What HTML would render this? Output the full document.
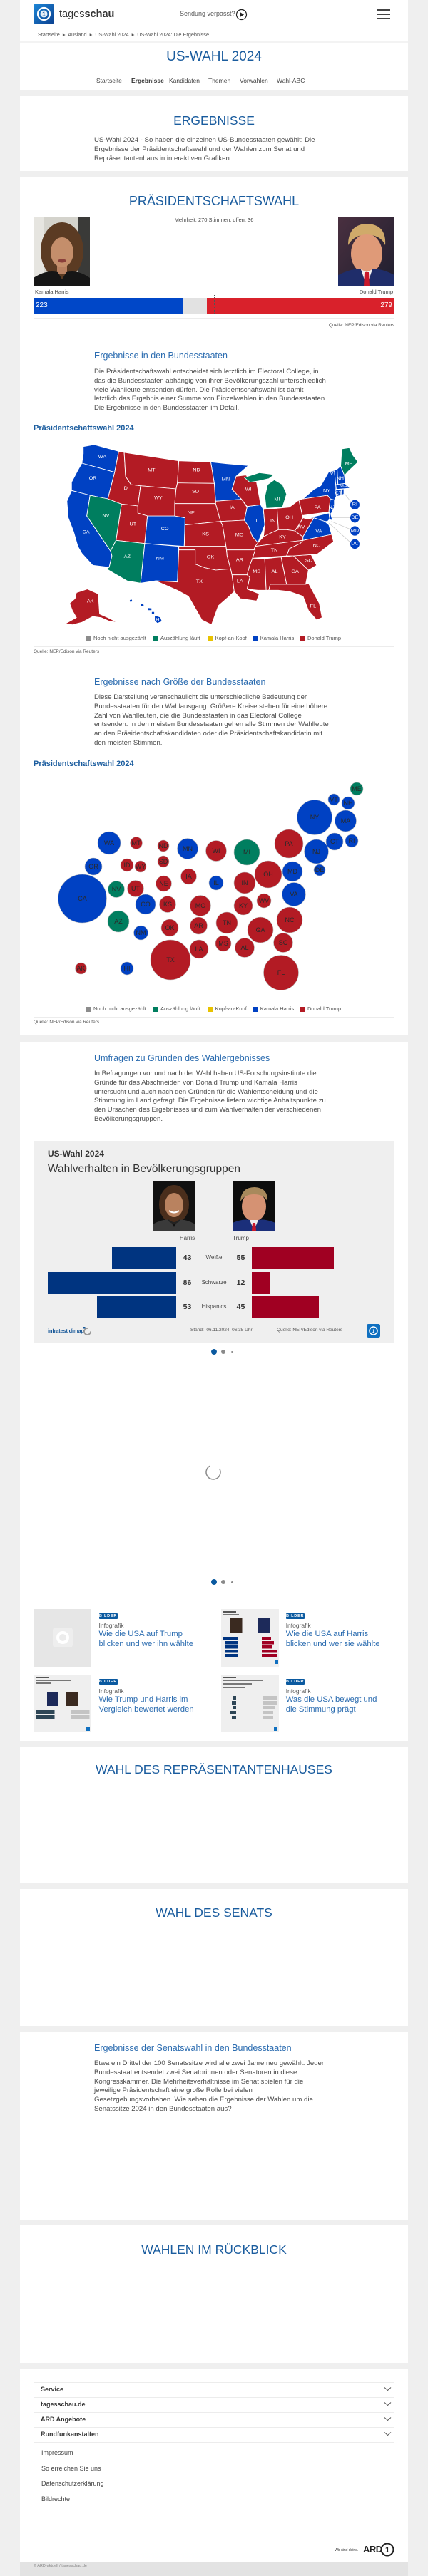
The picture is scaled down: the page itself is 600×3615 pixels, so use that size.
<!DOCTYPE html>
<html lang="de">
<head>
<meta charset="utf-8">
<title>US-Wahl 2024: Die Ergebnisse</title>
<style>
  html,body{margin:0;padding:0;}
  body{width:600px;height:3615px;background:#efefef;position:relative;overflow:hidden;font-family:"Liberation Sans",sans-serif;color:#444;}
  .card{position:absolute;left:28px;width:544px;background:#fff;}
  .t{position:absolute;white-space:nowrap;line-height:1;}
  .ctr{left:0;width:600px;text-align:center;}
  .h1{color:#1a5c9e;}
  .sub{color:#2b6cb0;font-size:12.5px;left:132px;}
  .p{font-size:9.6px;color:#4a4a4a;left:132px;}
  .bold{font-weight:bold;}
  .lg{position:absolute;width:7px;height:7px;}
  .badge{position:absolute;background:#0b5aa0;color:#fff;font-size:5.5px;font-weight:bold;letter-spacing:0.8px;line-height:8px;text-align:center;width:26px;height:8px;border-radius:1px;}
  .ttl{color:#2b6cb0;font-size:11.3px;}
  .fi{font-size:9px;font-weight:bold;color:#333;left:57px;}
  .fl{font-size:9px;color:#444;left:58px;}
  .hr{position:absolute;left:47px;width:506px;height:1px;background:#ececec;}
</style>
</head>
<body>

<!-- ================= HEADER CARD ================= -->
<div class="card" style="top:0;height:127px;"></div>
<div style="position:absolute;left:28px;top:58px;width:544px;height:2px;background:#f3f3f3;"></div>
<svg style="position:absolute;left:47px;top:5px" width="29" height="29" viewBox="0 0 29 29">
  <defs><linearGradient id="lg1" x1="0" y1="0" x2="1" y2="1"><stop offset="0" stop-color="#1e88d8"/><stop offset="1" stop-color="#0a3f8f"/></linearGradient></defs>
  <rect width="29" height="29" rx="4" fill="url(#lg1)"/>
  <circle cx="14.5" cy="14.5" r="8.5" fill="none" stroke="#fff" stroke-width="2.2"/>
  <circle cx="14.5" cy="14.5" r="5" fill="#fff" opacity="0.9"/>
  <text x="14.5" y="17.5" font-size="8" font-weight="bold" text-anchor="middle" fill="#0a4f9f" font-family="Liberation Sans">1</text>
</svg>
<div class="t" style="left:83px;top:12.5px;font-size:14.5px;color:#333;">tages<b>schau</b></div>
<div class="t" style="left:252px;top:15.3px;font-size:9px;color:#555;">Sendung verpasst?</div>
<svg style="position:absolute;left:330px;top:12px" width="17" height="17" viewBox="0 0 17 17">
  <circle cx="8.5" cy="8.5" r="7" fill="none" stroke="#222" stroke-width="1.2"/>
  <path d="M6.5 5 L12 8.5 L6.5 12 Z" fill="#222"/>
</svg>
<div style="position:absolute;left:529px;top:13px;width:18px;height:1.6px;background:#444;"></div>
<div style="position:absolute;left:529px;top:19px;width:18px;height:1.6px;background:#444;"></div>
<div style="position:absolute;left:529px;top:25px;width:18px;height:1.6px;background:#444;"></div>
<div class="t" style="left:53px;top:45.3px;font-size:7.3px;color:#555;">Startseite &nbsp;▸&nbsp; Ausland &nbsp;▸&nbsp; US-Wahl 2024 &nbsp;▸&nbsp; US-Wahl 2024: Die Ergebnisse</div>

<div class="t ctr h1" style="top:69.9px;font-size:19px;">US-WAHL 2024</div>
<div class="t" style="left:135px;top:108.6px;font-size:8.5px;color:#444;">Startseite</div>
<div class="t bold" style="left:184px;top:108.6px;font-size:8.5px;color:#333;">Ergebnisse</div>
<div style="position:absolute;left:184px;top:119.5px;width:38px;height:1.5px;background:#1a5c9e;"></div>
<div class="t" style="left:237px;top:108.6px;font-size:8.5px;color:#444;">Kandidaten</div>
<div class="t" style="left:292px;top:108.6px;font-size:8.5px;color:#444;">Themen</div>
<div class="t" style="left:336px;top:108.6px;font-size:8.5px;color:#444;">Vorwahlen</div>
<div class="t" style="left:388px;top:108.6px;font-size:8.5px;color:#444;">Wahl-ABC</div>

<!-- ================= ERGEBNISSE ================= -->
<div class="card" style="top:135px;height:105px;"></div>
<div class="t ctr h1" style="top:160.6px;font-size:17.5px;">ERGEBNISSE</div>
<div class="t p" style="top:192px;">US-Wahl 2024 - So haben die einzelnen US-Bundesstaaten gewählt: Die</div>
<div class="t p" style="top:204.8px;">Ergebnisse der Präsidentschaftswahl und der Wahlen zum Senat und</div>
<div class="t p" style="top:217.6px;">Repräsentantenhaus in interaktiven Grafiken.</div>

<!-- ================= PRÄSIDENTSCHAFTSWAHL ================= -->
<div class="card" style="top:248px;height:1205px;"></div>
<div class="t ctr h1" style="top:273.4px;font-size:18px;">PRÄSIDENTSCHAFTSWAHL</div>

<!-- Harris photo -->
<svg style="position:absolute;left:47px;top:304px" width="79" height="98" viewBox="0 0 79 98">
  <rect width="79" height="98" fill="#d4d3cc"/>
  <rect x="0" y="0" width="14" height="98" fill="#e6e5e0"/>
  <rect x="62" y="0" width="17" height="98" fill="#3a3a38"/>
  <ellipse cx="40" cy="48" rx="30" ry="40" fill="#5b3b23"/>
  <rect x="33" y="62" width="14" height="18" fill="#b98262"/>
  <ellipse cx="40" cy="50" rx="16" ry="21" fill="#c48e6b"/>
  <ellipse cx="40" cy="62" rx="6" ry="2.5" fill="#8a3f3a"/>
  <path d="M0 98 L0 86 Q18 74 34 78 L40 88 L46 78 Q62 74 79 86 L79 98 Z" fill="#161616"/>
</svg>
<!-- Trump photo -->
<svg style="position:absolute;left:474px;top:304px" width="79" height="98" viewBox="0 0 79 98">
  <defs><linearGradient id="tbg" x1="0" y1="0" x2="1" y2="1"><stop offset="0" stop-color="#4a3040"/><stop offset="1" stop-color="#1e1e2e"/></linearGradient></defs>
  <rect width="79" height="98" fill="url(#tbg)"/>
  <ellipse cx="40" cy="52" rx="22" ry="28" fill="#df9a78"/>
  <path d="M14 40 Q14 10 42 10 Q68 12 66 40 Q60 26 40 25 Q22 26 14 40 Z" fill="#d0aa6a"/>
  <path d="M0 98 L0 82 Q20 72 32 74 L40 98 L48 74 Q60 72 79 82 L79 98 Z" fill="#1f2d6a"/>
  <path d="M32 74 L40 98 L48 74 L40 78 Z" fill="#f2f2f2"/>
  <path d="M37 78 L43 78 L44 98 L36 98 Z" fill="#c8182a"/>
</svg>
<div class="t ctr" style="top:305px;font-size:7.5px;color:#444;">Mehrheit: 270 Stimmen, offen: 36</div>
<div class="t" style="left:49px;top:406px;font-size:7.5px;color:#444;">Kamala Harris</div>
<div class="t" style="left:453px;top:406px;width:98px;text-align:right;font-size:7.5px;color:#444;">Donald Trump</div>
<div style="position:absolute;left:47px;top:418px;width:209px;height:22px;background:#0047c8;"></div>
<div style="position:absolute;left:256px;top:418px;width:34px;height:22px;background:#e2e2e2;"></div>
<div style="position:absolute;left:290px;top:418px;width:263px;height:22px;background:#d9212b;"></div>
<div style="position:absolute;left:299.5px;top:414px;width:0;height:26px;border-left:1px dotted #555;"></div>
<div class="t" style="left:50px;top:424px;font-size:10px;color:#fff;">223</div>
<div class="t" style="left:500px;top:424px;width:50px;text-align:right;font-size:10px;color:#fff;">279</div>
<div class="hr" style="top:446px;"></div>
<div class="t" style="left:400px;top:453.6px;width:153px;text-align:right;font-size:6.5px;color:#555;">Quelle: NEP/Edison via Reuters</div>

<div class="t sub" style="top:492.5px;">Ergebnisse in den Bundesstaaten</div>
<div class="t p" style="top:517px;">Die Präsidentschaftswahl entscheidet sich letztlich im Electoral College, in</div>
<div class="t p" style="top:529.8px;">das die Bundesstaaten abhängig von ihrer Bevölkerungszahl unterschiedlich</div>
<div class="t p" style="top:542.6px;">viele Wahlleute entsenden dürfen. Die Präsidentschaftswahl ist damit</div>
<div class="t p" style="top:555.4px;">letztlich das Ergebnis einer Summe von Einzelwahlen in den Bundesstaaten.</div>
<div class="t p" style="top:568.2px;">Die Ergebnisse in den Bundesstaaten im Detail.</div>

<div class="t bold" style="left:47px;top:596.3px;font-size:11px;color:#1a5c9e;">Präsidentschaftswahl 2024</div>

<!-- US MAP -->
<svg style="position:absolute;left:0;top:580px" width="600" height="320" viewBox="0 0 1568 960" preserveAspectRatio="none">
<g stroke="#fff" stroke-width="2.5" stroke-linejoin="round">
<g fill="#0041c3">
<polygon points="305,140 345,132 435,160 420,248 300,210 305,170"/>
<polygon points="300,210 420,248 395,360 330,345 262,325 262,290 285,240"/>
<polygon points="262,325 330,345 318,432 405,580 410,600 400,648 340,640 300,590 285,560 270,500 250,440 245,370"/>
<polygon points="540,432 640,432 678,440 675,560 530,548"/>
<polygon points="530,548 655,560 655,575 650,710 570,705 515,715"/>
<polygon points="772,205 830,212 910,220 865,265 850,320 885,362 790,370 785,295"/>
<polygon points="905,392 955,385 965,405 970,470 945,545 925,520 910,475 895,450 905,395"/>
</g>
<g fill="#b31b24">
<polygon points="435,160 455,165 460,265 480,300 515,305 505,390 445,382 395,360 420,248"/>
<polygon points="455,165 655,200 650,293 645,318 515,305 480,300 460,265"/>
<polygon points="515,305 645,318 640,432 540,432 505,420 505,390"/>
<polygon points="445,382 505,390 505,420 540,432 530,548 425,535"/>
<polygon points="655,200 772,205 785,295 650,293"/>
<polygon points="650,293 785,295 790,380 640,380 645,318"/>
<polygon points="640,380 790,380 808,455 678,470 678,440 640,432"/>
<polygon points="678,470 808,455 815,470 828,560 675,560"/>
<polygon points="655,560 675,560 828,560 832,600 845,655 790,660 750,650 715,635 715,575 655,575"/>
<polygon points="570,705 650,710 655,575 715,575 715,635 750,650 790,660 845,655 850,680 858,750 840,770 800,810 775,890 740,870 720,830 690,770 650,745 600,720"/>
<polygon points="790,370 885,362 905,395 895,450 808,455 790,380"/>
<polygon points="865,265 900,260 940,290 955,385 905,392 885,362 850,320"/>
<polygon points="965,405 1015,400 1020,490 990,505 965,520 970,470"/>
<polygon points="1015,400 1060,395 1095,365 1110,440 1095,470 1080,495 1050,490 1020,490"/>
<polygon points="808,455 895,450 910,475 925,520 945,545 935,575 830,575 828,560 815,470"/>
<polygon points="945,545 965,520 990,505 1020,490 1050,490 1080,495 1110,520 1110,535 1070,540 935,560"/>
<polygon points="935,560 1070,540 1110,535 1100,548 1060,570 1050,600 925,610 930,575"/>
<polygon points="1080,495 1095,470 1110,440 1125,445 1150,440 1135,470 1110,520"/>
<polygon points="830,575 935,575 925,610 915,640 905,680 850,680 845,655 832,600"/>
<polygon points="925,610 970,612 975,745 945,745 905,740 915,690 905,680 915,640"/>
<polygon points="970,612 1030,605 1050,720 990,720 985,745 975,745"/>
<polygon points="1030,605 1075,600 1130,660 1120,720 1050,720"/>
<polygon points="1075,600 1140,595 1160,640 1130,660"/>
<polygon points="850,680 905,680 915,690 905,740 950,760 940,790 880,780 858,750"/>
<polygon points="985,745 990,720 1050,720 1120,720 1130,715 1170,800 1180,860 1160,870 1130,830 1110,770 1060,750 1020,745"/>
<polygon points="1095,365 1110,360 1200,345 1210,360 1205,415 1110,430 1110,440"/>
<polygon points="280,755 320,740 360,760 365,845 395,860 430,880 400,875 370,860 340,855 300,880 265,890 240,885 280,860 265,830 255,800 275,780"/>
</g>
<g fill="#0041c3">
<polygon points="1110,520 1135,470 1150,440 1190,455 1205,470 1215,510 1110,535"/>
</g>
<g fill="#b31b24">
<polygon points="1110,535 1215,510 1222,540 1160,595 1140,595 1075,600 1050,600 1060,570 1100,548"/>
</g>
<g fill="#0041c3">
<polygon points="1110,360 1150,320 1175,305 1205,245 1225,242 1230,300 1232,350 1225,365 1210,360 1200,345"/>
<polygon points="1210,360 1225,365 1225,395 1212,425 1205,415"/>
<polygon points="1130,440 1205,420 1212,440 1200,455 1190,455 1165,445 1150,440"/>
<polygon points="1205,420 1212,425 1218,450 1208,448"/>
<polygon points="1205,245 1235,235 1238,300 1230,300 1225,242"/>
<polygon points="1235,235 1248,222 1262,262 1265,295 1238,300"/>
<polygon points="1230,300 1265,295 1282,315 1232,320"/>
<polygon points="1230,320 1250,320 1250,345 1232,350"/>
<polygon points="1250,320 1260,318 1260,340 1250,345"/>
<polygon points="474,785 484,783 486,793 476,795"/>
<polygon points="514,802 526,800 528,812 516,814"/>
<polygon points="540,818 556,820 556,830 542,830"/>
<polygon points="555,835 566,835 566,845 555,845"/>
<polygon points="566,850 588,858 594,876 576,884 566,872"/>
</g>
<g fill="#007e5f">
<polygon points="330,345 395,360 445,382 425,535 405,580 318,432"/>
<polygon points="425,535 530,548 515,715 465,705 390,655 400,648 410,600 405,580"/>
<polygon points="895,270 950,250 1005,258 985,275 945,285 915,290"/>
<polygon points="980,300 1005,280 1035,300 1050,340 1035,395 975,400 970,350"/>
<polygon points="1248,222 1252,150 1280,145 1292,175 1312,205 1275,245 1262,262"/>
</g>
</g>
<g stroke="#c8c8c8" stroke-width="2">
<line x1="1262" y1="338" x2="1285" y2="372"/>
<line x1="1218" y1="440" x2="1282" y2="440"/>
<line x1="1214" y1="455" x2="1283" y2="488"/>
<line x1="1205" y1="462" x2="1285" y2="545"/>
</g>
<g fill="#0041c3" stroke="#fff" stroke-width="2">
<ellipse cx="1300" cy="385" rx="18" ry="21"/>
<ellipse cx="1300" cy="440" rx="18" ry="21"/>
<ellipse cx="1300" cy="495" rx="18" ry="21"/>
<ellipse cx="1300" cy="550" rx="18" ry="21"/>
</g>
<g fill="#fff" font-size="19" text-anchor="middle" dominant-baseline="central" font-family="Liberation Sans">
<text x="1300" y="385">RI</text><text x="1300" y="440">DE</text><text x="1300" y="495">MD</text><text x="1300" y="550">DC</text>
<text x="375" y="185">WA</text><text x="340" y="275">OR</text><text x="315" y="502">CA</text><text x="388" y="433">NV</text>
<text x="458" y="317">ID</text><text x="555" y="240">MT</text><text x="580" y="358">WY</text><text x="487" y="468">UT</text>
<text x="604" y="488">CO</text><text x="466" y="605">AZ</text><text x="586" y="613">NM</text><text x="720" y="241">ND</text>
<text x="716" y="330">SD</text><text x="700" y="420">NE</text><text x="753" y="510">KS</text><text x="771" y="606">OK</text>
<text x="730" y="710">TX</text><text x="827" y="280">MN</text><text x="850" y="398">IA</text><text x="877" y="514">MO</text>
<text x="878" y="618">AR</text><text x="879" y="709">LA</text><text x="910" y="322">WI</text><text x="940" y="455">IL</text>
<text x="1015" y="364">MI</text><text x="1000" y="455">IN</text><text x="1060" y="440">OH</text><text x="1035" y="523">KY</text>
<text x="1005" y="578">TN</text><text x="940" y="668">MS</text><text x="1006" y="668">AL</text><text x="1081" y="668">GA</text>
<text x="1147" y="813">FL</text><text x="1131" y="621">SC</text><text x="1160" y="558">NC</text><text x="1168" y="499">VA</text>
<text x="1102" y="481">WV</text><text x="1163" y="398">PA</text><text x="1197" y="328">NY</text><text x="1215" y="398">NJ</text>
<text x="1221" y="256">VT</text><text x="1246" y="275">NH</text><text x="1258" y="308">MA</text><text x="1240" y="338">CT</text>
<text x="1278" y="213">ME</text><text x="331" y="792">AK</text><text x="580" y="870">HI</text>
</g>
</svg>

<!-- legend 1 -->
<div class="lg" style="left:120.5px;top:892.5px;background:#8c8c8c;"></div>
<div class="t" style="left:131px;top:892px;font-size:7.5px;color:#555;">Noch nicht ausgezählt</div>
<div class="lg" style="left:215px;top:892.5px;background:#007e5f;"></div>
<div class="t" style="left:225px;top:892px;font-size:7.5px;color:#555;">Auszählung läuft</div>
<div class="lg" style="left:291.6px;top:892.5px;background:#e8c200;"></div>
<div class="t" style="left:301.6px;top:892px;font-size:7.5px;color:#555;">Kopf-an-Kopf</div>
<div class="lg" style="left:355px;top:892.5px;background:#0041c3;"></div>
<div class="t" style="left:364.7px;top:892px;font-size:7.5px;color:#555;">Kamala Harris</div>
<div class="lg" style="left:421px;top:892.5px;background:#b31b24;"></div>
<div class="t" style="left:431px;top:892px;font-size:7.5px;color:#555;">Donald Trump</div>
<div class="hr" style="top:907px;"></div>
<div class="t" style="left:47px;top:911.6px;font-size:6.5px;color:#555;">Quelle: NEP/Edison via Reuters</div>

<div class="t sub" style="top:950.5px;">Ergebnisse nach Größe der Bundesstaaten</div>
<div class="t p" style="top:974px;">Diese Darstellung veranschaulicht die unterschiedliche Bedeutung der</div>
<div class="t p" style="top:986.8px;">Bundesstaaten für den Wahlausgang. Größere Kreise stehen für eine höhere</div>
<div class="t p" style="top:999.6px;">Zahl von Wahlleuten, die die Bundesstaaten in das Electoral College</div>
<div class="t p" style="top:1012.4px;">entsenden. In den meisten Bundesstaaten gehen alle Stimmen der Wahlleute</div>
<div class="t p" style="top:1025.2px;">an den Präsidentschaftskandidaten oder die Präsidentschaftskandidatin mit</div>
<div class="t p" style="top:1038px;">den meisten Stimmen.</div>

<div class="t bold" style="left:47px;top:1067.3px;font-size:11px;color:#1a5c9e;">Präsidentschaftswahl 2024</div>

<!-- BUBBLES -->
<svg style="position:absolute;left:0;top:1090px" width="600" height="300" viewBox="0 1090 600 300">
<g stroke="#bbb" stroke-width="0.6">
<g fill="#0041c3">
<circle cx="468" cy="1122" r="8"/><circle cx="488" cy="1127" r="9"/><circle cx="441" cy="1147" r="24.5"/>
<circle cx="484.5" cy="1152" r="15"/><circle cx="469" cy="1181" r="12"/><circle cx="493" cy="1180" r="9"/>
<circle cx="443.5" cy="1195" r="17"/><circle cx="448" cy="1221" r="8"/><circle cx="410" cy="1223" r="14"/>
<circle cx="412" cy="1255" r="16.5"/><circle cx="303" cy="1239" r="10"/><circle cx="263" cy="1191" r="14.5"/>
<circle cx="204" cy="1269" r="14"/><circle cx="197.5" cy="1309" r="10"/><circle cx="115.5" cy="1261" r="34"/>
<circle cx="131" cy="1216" r="12"/><circle cx="153" cy="1183" r="16"/><circle cx="178" cy="1359" r="9"/>
</g>
<g fill="#007e5f">
<circle cx="500" cy="1107" r="9"/><circle cx="346" cy="1196" r="18"/><circle cx="163" cy="1248" r="11.5"/><circle cx="166" cy="1293" r="15"/>
</g>
<g fill="#b31b24">
<circle cx="405" cy="1184" r="20"/><circle cx="376" cy="1227" r="19"/><circle cx="370" cy="1264" r="10"/>
<circle cx="343" cy="1239" r="15"/><circle cx="341" cy="1271" r="13"/><circle cx="303" cy="1194" r="14.5"/>
<circle cx="264.5" cy="1230" r="11"/><circle cx="281" cy="1271" r="14.5"/><circle cx="318" cy="1295" r="15"/>
<circle cx="406" cy="1291" r="18"/><circle cx="365" cy="1305" r="18"/><circle cx="397" cy="1323" r="13.5"/>
<circle cx="394" cy="1365" r="24.5"/><circle cx="343" cy="1330" r="13.5"/><circle cx="313" cy="1324" r="11"/>
<circle cx="278.5" cy="1299" r="12"/><circle cx="279" cy="1332" r="13"/><circle cx="239" cy="1347" r="28"/>
<circle cx="238" cy="1302" r="12"/><circle cx="235" cy="1269" r="11.5"/><circle cx="229.5" cy="1240" r="11"/>
<circle cx="229" cy="1209" r="8"/><circle cx="229" cy="1187" r="8"/><circle cx="191" cy="1183" r="8.5"/>
<circle cx="197" cy="1216" r="8"/><circle cx="178" cy="1214" r="9"/><circle cx="190" cy="1247" r="11.5"/>
<circle cx="113.5" cy="1359" r="8"/>
</g>
</g>
<g fill="#2a2a2a" font-size="9" text-anchor="middle" dominant-baseline="central" font-family="Liberation Sans">
<text x="500" y="1107">ME</text><text x="468" y="1122">VT</text><text x="488" y="1127">NH</text><text x="441" y="1147">NY</text>
<text x="484.5" y="1152">MA</text><text x="469" y="1181">CT</text><text x="493" y="1180">RI</text><text x="443.5" y="1195">NJ</text>
<text x="405" y="1184">PA</text><text x="448" y="1221">DE</text><text x="410" y="1223">MD</text><text x="412" y="1255">VA</text>
<text x="376" y="1227">OH</text><text x="370" y="1264">WV</text><text x="343" y="1239">IN</text><text x="341" y="1271">KY</text>
<text x="346" y="1196">MI</text><text x="303" y="1194">WI</text><text x="303" y="1239">IL</text><text x="263" y="1191">MN</text>
<text x="264.5" y="1230">IA</text><text x="281" y="1271">MO</text><text x="318" y="1295">TN</text><text x="406" y="1291">NC</text>
<text x="365" y="1305">GA</text><text x="397" y="1323">SC</text><text x="394" y="1365">FL</text><text x="343" y="1330">AL</text>
<text x="313" y="1324">MS</text><text x="278.5" y="1299">AR</text><text x="279" y="1332">LA</text><text x="239" y="1347">TX</text>
<text x="238" y="1302">OK</text><text x="235" y="1269">KS</text><text x="229.5" y="1240">NE</text><text x="229" y="1209">SD</text>
<text x="229" y="1187">ND</text><text x="191" y="1183">MT</text><text x="197" y="1216">WY</text><text x="178" y="1214">ID</text>
<text x="190" y="1247">UT</text><text x="163" y="1248">NV</text><text x="204" y="1269">CO</text><text x="166" y="1293">AZ</text>
<text x="197.5" y="1309">NM</text><text x="115.5" y="1261">CA</text><text x="131" y="1216">OR</text><text x="153" y="1183">WA</text>
<text x="113.5" y="1359">AK</text><text x="178" y="1359">HI</text>
</g>
</svg>

<!-- legend 2 -->
<div class="lg" style="left:120.5px;top:1412.5px;background:#8c8c8c;"></div>
<div class="t" style="left:131px;top:1412px;font-size:7.5px;color:#555;">Noch nicht ausgezählt</div>
<div class="lg" style="left:215px;top:1412.5px;background:#007e5f;"></div>
<div class="t" style="left:225px;top:1412px;font-size:7.5px;color:#555;">Auszählung läuft</div>
<div class="lg" style="left:291.6px;top:1412.5px;background:#e8c200;"></div>
<div class="t" style="left:301.6px;top:1412px;font-size:7.5px;color:#555;">Kopf-an-Kopf</div>
<div class="lg" style="left:355px;top:1412.5px;background:#0041c3;"></div>
<div class="t" style="left:364.7px;top:1412px;font-size:7.5px;color:#555;">Kamala Harris</div>
<div class="lg" style="left:421px;top:1412.5px;background:#b31b24;"></div>
<div class="t" style="left:431px;top:1412px;font-size:7.5px;color:#555;">Donald Trump</div>
<div class="hr" style="top:1427px;"></div>
<div class="t" style="left:47px;top:1431.6px;font-size:6.5px;color:#555;">Quelle: NEP/Edison via Reuters</div>

<!-- ================= UMFRAGEN ================= -->
<div class="card" style="top:1462px;height:981px;"></div>
<div class="t sub" style="top:1478.5px;">Umfragen zu Gründen des Wahlergebnisses</div>
<div class="t p" style="top:1502px;">In Befragungen vor und nach der Wahl haben US-Forschungsinstitute die</div>
<div class="t p" style="top:1514.8px;">Gründe für das Abschneiden von Donald Trump und Kamala Harris</div>
<div class="t p" style="top:1527.6px;">untersucht und auch nach den Gründen für die Wahlentscheidung und die</div>
<div class="t p" style="top:1540.4px;">Stimmung im Land gefragt. Die Ergebnisse liefern wichtige Anhaltspunkte zu</div>
<div class="t p" style="top:1553.2px;">den Ursachen des Ergebnisses und zum Wahlverhalten der verschiedenen</div>
<div class="t p" style="top:1566px;">Bevölkerungsgruppen.</div>

<div style="position:absolute;left:47px;top:1601px;width:506px;height:284px;background:#efefef;"></div>
<div class="t bold" style="left:67px;top:1612.8px;font-size:12px;color:#333;">US-Wahl 2024</div>
<div class="t" style="left:67px;top:1633px;font-size:15.5px;color:#333;">Wahlverhalten in Bevölkerungsgruppen</div>

<svg style="position:absolute;left:214px;top:1658px" width="60" height="69" viewBox="0 0 60 69">
  <rect width="60" height="69" fill="#111"/>
  <ellipse cx="30" cy="32" rx="21" ry="27" fill="#4a2e1c"/>
  <ellipse cx="30" cy="33" rx="13" ry="17" fill="#b9825f"/>
  <path d="M23 41 Q30 46 37 41" stroke="#fff" stroke-width="2" fill="none"/>
  <path d="M0 69 L0 60 Q14 52 24 54 L30 64 L36 54 Q46 52 60 60 L60 69 Z" fill="#3a3a3a"/>
  <path d="M22 54 Q30 62 38 54" stroke="#222" stroke-width="2" fill="none"/>
</svg>
<svg style="position:absolute;left:326px;top:1658px" width="60" height="69" viewBox="0 0 60 69">
  <rect width="60" height="69" fill="#0d0d0d"/>
  <ellipse cx="30" cy="35" rx="17" ry="21" fill="#d59273"/>
  <path d="M11 28 Q12 8 31 8 Q50 9 49 28 Q44 18 30 18 Q17 18 11 28 Z" fill="#a8895c"/>
  <path d="M0 69 L0 58 Q14 52 24 54 L30 69 L36 54 Q46 52 60 58 L60 69 Z" fill="#1b2f7a"/>
  <path d="M24 54 L30 69 L36 54 Z" fill="#eee"/>
  <path d="M28 58 L32 58 L33 69 L27 69 Z" fill="#c8182a"/>
</svg>
<div class="t" style="left:242.5px;top:1733.8px;width:40px;text-align:center;font-size:8px;color:#444;">Harris</div>
<div class="t" style="left:317.5px;top:1733.8px;width:40px;text-align:center;font-size:8px;color:#444;">Trump</div>

<div style="position:absolute;left:157px;top:1750px;width:89.5px;height:31px;background:#003480;"></div>
<div style="position:absolute;left:353px;top:1750px;width:115px;height:31px;background:#a00022;"></div>
<div style="position:absolute;left:67px;top:1785px;width:179.5px;height:31px;background:#003480;"></div>
<div style="position:absolute;left:353px;top:1785px;width:25px;height:31px;background:#a00022;"></div>
<div style="position:absolute;left:136px;top:1819px;width:110.5px;height:31px;background:#003480;"></div>
<div style="position:absolute;left:353px;top:1819px;width:94px;height:31px;background:#a00022;"></div>

<div class="t bold" style="left:250px;top:1760px;width:25px;text-align:center;font-size:10.5px;color:#333;">43</div>
<div class="t" style="left:270px;top:1761.3px;width:60px;text-align:center;font-size:8px;color:#444;">Weiße</div>
<div class="t bold" style="left:325px;top:1760px;width:25px;text-align:center;font-size:10.5px;color:#333;">55</div>
<div class="t bold" style="left:250px;top:1795px;width:25px;text-align:center;font-size:10.5px;color:#333;">86</div>
<div class="t" style="left:270px;top:1796.3px;width:60px;text-align:center;font-size:8px;color:#444;">Schwarze</div>
<div class="t bold" style="left:325px;top:1795px;width:25px;text-align:center;font-size:10.5px;color:#333;">12</div>
<div class="t bold" style="left:250px;top:1829px;width:25px;text-align:center;font-size:10.5px;color:#333;">53</div>
<div class="t" style="left:270px;top:1830.3px;width:60px;text-align:center;font-size:8px;color:#444;">Hispanics</div>
<div class="t bold" style="left:325px;top:1829px;width:25px;text-align:center;font-size:10.5px;color:#333;">45</div>

<div class="t" style="left:67px;top:1864px;font-size:7.5px;color:#1a5a9a;font-weight:bold;letter-spacing:-0.2px;">infratest dimap</div>
<svg style="position:absolute;left:116px;top:1862px" width="13" height="13" viewBox="0 0 13 13">
  <circle cx="6.5" cy="6.5" r="4.5" fill="none" stroke="#9a9a9a" stroke-width="1.8" stroke-dasharray="22 6"/>
  <rect x="1" y="0" width="2.5" height="2.5" fill="#1a5a9a"/>
</svg>
<div class="t" style="left:267px;top:1864.4px;font-size:6.5px;color:#555;">Stand:&nbsp; 06.11.2024, 06:35 Uhr</div>
<div class="t" style="left:388px;top:1864.4px;font-size:6.5px;color:#555;">Quelle: NEP/Edison via Reuters</div>
<svg style="position:absolute;left:513.5px;top:1858px" width="19" height="19" viewBox="0 0 19 19">
  <rect width="19" height="19" rx="2.5" fill="#1070c0"/>
  <circle cx="9.5" cy="9.5" r="5.5" fill="none" stroke="#fff" stroke-width="1.5"/>
  <text x="9.5" y="12" font-size="6" font-weight="bold" fill="#fff" text-anchor="middle" font-family="Liberation Sans">1</text>
</svg>

<!-- dots 1 -->
<div style="position:absolute;left:296px;top:1893px;width:8px;height:8px;border-radius:50%;background:#0b5aa0;"></div>
<div style="position:absolute;left:309.7px;top:1894px;width:6px;height:6px;border-radius:50%;background:#8a8a8a;"></div>
<div style="position:absolute;left:324.2px;top:1895.5px;width:3px;height:3px;border-radius:50%;background:#8a8a8a;"></div>

<!-- spinner -->
<svg style="position:absolute;left:287px;top:2054px" width="24" height="24" viewBox="0 0 24 24">
  <circle cx="12" cy="12" r="10" fill="none" stroke="#8a8a8a" stroke-width="1.5" stroke-dasharray="47 16" transform="rotate(-30 12 12)"/>
</svg>

<!-- dots 2 -->
<div style="position:absolute;left:296px;top:2216px;width:8px;height:8px;border-radius:50%;background:#0b5aa0;"></div>
<div style="position:absolute;left:309.7px;top:2217px;width:6px;height:6px;border-radius:50%;background:#8a8a8a;"></div>
<div style="position:absolute;left:324.2px;top:2218.5px;width:3px;height:3px;border-radius:50%;background:#8a8a8a;"></div>

<!-- teaser card 1 -->
<div style="position:absolute;left:47px;top:2258px;width:81px;height:81px;background:#e6e6e6;"></div>
<svg style="position:absolute;left:73.5px;top:2284px" width="28" height="28" viewBox="0 0 28 28">
  <rect width="28" height="28" rx="4" fill="#eeeeee"/>
  <circle cx="14" cy="14" r="9" fill="#fff"/>
  <circle cx="14" cy="14" r="5" fill="#ececec"/>
</svg>
<div class="badge" style="left:138.5px;top:2264px;">BILDER</div>
<div class="t" style="left:138.5px;top:2276.6px;font-size:8.5px;color:#555;">Infografik</div>
<div class="t ttl" style="left:138.5px;top:2288px;">Wie die USA auf Trump</div>
<div class="t ttl" style="left:138.5px;top:2302px;">blicken und wer ihn wählte</div>

<!-- teaser card 2 -->
<svg style="position:absolute;left:310px;top:2258px" width="81" height="81" viewBox="0 0 81 81">
  <rect width="81" height="81" fill="#efefef"/>
  <rect x="3" y="3" width="18" height="2" fill="#555"/><rect x="3" y="7" width="22" height="2" fill="#777"/>
  <rect x="12.5" y="13" width="17" height="20" fill="#3a2a20"/><rect x="51" y="13" width="17" height="20" fill="#1d2a5a"/>
  <g fill="#003480"><rect x="3" y="39" width="21" height="4.5"/><rect x="5" y="45" width="19" height="4.5"/><rect x="6" y="51" width="18" height="4.5"/><rect x="6" y="57" width="18" height="4.5"/><rect x="6" y="63" width="18" height="4.5"/></g>
  <g fill="#a00022"><rect x="57" y="39" width="13" height="4.5"/><rect x="57" y="45" width="17" height="4.5"/><rect x="57" y="51" width="14" height="4.5"/><rect x="57" y="57" width="22" height="4.5"/><rect x="57" y="63" width="21" height="4.5"/></g>
  <rect x="75" y="72" width="5" height="5" fill="#1070c0"/>
</svg>
<div class="badge" style="left:400.7px;top:2264px;">BILDER</div>
<div class="t" style="left:400.7px;top:2276.6px;font-size:8.5px;color:#555;">Infografik</div>
<div class="t ttl" style="left:400.7px;top:2288px;">Wie die USA auf Harris</div>
<div class="t ttl" style="left:400.7px;top:2302px;">blicken und wer sie wählte</div>

<!-- teaser card 3 -->
<svg style="position:absolute;left:47px;top:2350px" width="81" height="81" viewBox="0 0 81 81">
  <rect width="81" height="81" fill="#efefef"/>
  <rect x="3" y="3" width="18" height="2" fill="#555"/><rect x="3" y="7" width="50" height="2" fill="#777"/><rect x="3" y="11" width="22" height="2" fill="#777"/>
  <rect x="19" y="24" width="16" height="20" fill="#1d2a5a"/><rect x="46" y="24" width="17" height="20" fill="#3a2a20"/>
  <rect x="3" y="50" width="26.5" height="5.5" fill="#2e4656"/><rect x="3" y="57" width="26.5" height="5.5" fill="#2e4656"/>
  <rect x="52.5" y="50" width="26" height="5.5" fill="#c4c4c4"/><rect x="52.5" y="57" width="26" height="5.5" fill="#c4c4c4"/>
  <rect x="74" y="74" width="5" height="5" fill="#1070c0"/>
</svg>
<div class="badge" style="left:138.5px;top:2356px;">BILDER</div>
<div class="t" style="left:138.5px;top:2368.6px;font-size:8.5px;color:#555;">Infografik</div>
<div class="t ttl" style="left:138.5px;top:2380px;">Wie Trump und Harris im</div>
<div class="t ttl" style="left:138.5px;top:2394px;">Vergleich bewertet werden</div>

<!-- teaser card 4 -->
<svg style="position:absolute;left:310px;top:2350px" width="81" height="81" viewBox="0 0 81 81">
  <rect width="81" height="81" fill="#efefef"/>
  <rect x="3" y="3" width="18" height="2" fill="#555"/><rect x="3" y="7" width="55" height="2" fill="#777"/><rect x="3" y="12" width="40" height="2" fill="#777"/><rect x="3" y="17" width="30" height="2" fill="#777"/>
  <g fill="#2e4656"><rect x="17" y="30" width="4" height="5"/><rect x="15" y="37" width="6" height="5"/><rect x="16" y="44" width="5" height="5"/><rect x="13" y="51" width="8" height="5"/><rect x="15" y="58" width="6" height="5"/></g>
  <g fill="#c4c4c4"><rect x="59" y="30" width="19" height="5"/><rect x="59" y="37" width="19" height="5"/><rect x="59" y="44" width="16" height="5"/><rect x="59" y="51" width="14" height="5"/><rect x="59" y="58" width="14" height="5"/></g>
  <rect x="74" y="74" width="5" height="5" fill="#1070c0"/>
</svg>
<div class="badge" style="left:400.7px;top:2356px;">BILDER</div>
<div class="t" style="left:400.7px;top:2368.6px;font-size:8.5px;color:#555;">Infografik</div>
<div class="t ttl" style="left:400.7px;top:2380px;">Was die USA bewegt und</div>
<div class="t ttl" style="left:400.7px;top:2394px;">die Stimmung prägt</div>

<!-- ================= REPRÄSENTANTENHAUS ================= -->
<div class="card" style="top:2451px;height:192px;"></div>
<div class="t ctr h1" style="top:2474.6px;font-size:17.5px;">WAHL DES REPRÄSENTANTENHAUSES</div>

<!-- ================= SENAT ================= -->
<div class="card" style="top:2651px;height:192px;"></div>
<div class="t ctr h1" style="top:2675.6px;font-size:17.5px;">WAHL DES SENATS</div>

<div class="card" style="top:2851px;height:265px;"></div>
<div class="t sub" style="top:2867.5px;">Ergebnisse der Senatswahl in den Bundesstaaten</div>
<div class="t p" style="top:2891px;">Etwa ein Drittel der 100 Senatssitze wird alle zwei Jahre neu gewählt. Jeder</div>
<div class="t p" style="top:2903.8px;">Bundesstaat entsendet zwei Senatorinnen oder Senatoren in diese</div>
<div class="t p" style="top:2916.6px;">Kongresskammer. Die Mehrheitsverhältnisse im Senat spielen für die</div>
<div class="t p" style="top:2929.4px;">jeweilige Präsidentschaft eine große Rolle bei vielen</div>
<div class="t p" style="top:2942.2px;">Gesetzgebungsvorhaben. Wie sehen die Ergebnisse der Wahlen um die</div>
<div class="t p" style="top:2955px;">Senatssitze 2024 in den Bundesstaaten aus?</div>

<!-- ================= RÜCKBLICK ================= -->
<div class="card" style="top:3123px;height:193px;"></div>
<div class="t ctr h1" style="top:3148.6px;font-size:17.5px;">WAHLEN IM RÜCKBLICK</div>

<!-- ================= FOOTER ================= -->
<div class="card" style="top:3324px;height:271px;"></div>
<div class="hr" style="top:3343px;"></div>
<div class="hr" style="top:3364px;"></div>
<div class="hr" style="top:3385px;"></div>
<div class="hr" style="top:3406px;"></div>
<div class="hr" style="top:3427px;"></div>
<div class="t fi" style="top:3349.3px;">Service</div>
<div class="t fi" style="top:3370.3px;">tagesschau.de</div>
<div class="t fi" style="top:3391.3px;">ARD Angebote</div>
<div class="t fi" style="top:3412.3px;">Rundfunkanstalten</div>
<svg style="position:absolute;left:538px;top:3349px" width="12" height="70" viewBox="0 0 12 70">
  <g fill="none" stroke="#555" stroke-width="1">
    <polyline points="1,1.5 5.5,5.5 10,1.5"/>
    <polyline points="1,22.5 5.5,26.5 10,22.5"/>
    <polyline points="1,43.5 5.5,47.5 10,43.5"/>
    <polyline points="1,64.5 5.5,68.5 10,64.5"/>
  </g>
</svg>
<div class="t fl" style="top:3438.3px;">Impressum</div>
<div class="t fl" style="top:3460.3px;">So erreichen Sie uns</div>
<div class="t fl" style="top:3481.3px;">Datenschutzerklärung</div>
<div class="t fl" style="top:3503.3px;">Bildrechte</div>

<div class="t" style="left:469px;top:3577px;font-size:5.5px;color:#444;letter-spacing:-0.2px;">Wir sind deins.</div>
<div class="t bold" style="left:509px;top:3571px;font-size:13px;color:#222;letter-spacing:-0.5px;">ARD</div>
<svg style="position:absolute;left:532px;top:3567px" width="22" height="22" viewBox="0 0 22 22">
  <circle cx="11" cy="11" r="8.5" fill="none" stroke="#222" stroke-width="2"/>
  <text x="11" y="15" font-size="11" font-weight="bold" fill="#222" text-anchor="middle" font-family="Liberation Sans">1</text>
</svg>

<div style="position:absolute;left:28px;top:3595px;width:544px;height:20px;background:#e3e3e3;"></div>
<div class="t" style="left:47px;top:3599px;font-size:5.5px;color:#888;">© ARD-aktuell / tagesschau.de</div>

</body>
</html>
